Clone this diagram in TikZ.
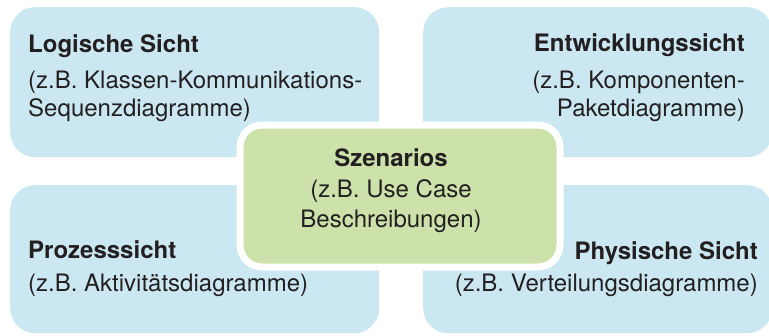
\documentclass[tikz,border=0pt]{standalone}
\usepackage{fontspec}
\setmainfont{TeX Gyre Heros}
\definecolor{viewblue}{HTML}{CBE8F2}
\definecolor{scengreen}{HTML}{CDE2AB}
\definecolor{ink}{HTML}{231F20}
\begin{document}
\begin{tikzpicture}[x=1pt,y=-1pt,
  viewbox/.style={fill=viewblue, rounded corners=25pt, inner sep=0pt,
    minimum width=349pt, minimum height=150pt, anchor=north west},
  scenbox/.style={fill=scengreen, draw=white, line width=7pt,
    rounded corners=22pt, inner sep=0pt, anchor=north west,
    minimum width=320pt, minimum height=142pt},
  headline/.style={font=\fontsize{24}{28}\selectfont\bfseries, text=ink, inner sep=0pt},
  bodyline/.style={font=\fontsize{24}{28}\selectfont, text=ink, inner sep=0pt}
]
\clip (0,0) rectangle (769,335);
\fill[white] (0,0) rectangle (769,335);

% the four views
\node[viewbox, minimum width=369pt] (logical) at (10,7) {};
\node[viewbox] (development) at (423,7) {};
\node[viewbox, minimum width=369pt, minimum height=148pt] (process) at (10,185) {};
\node[viewbox, minimum height=148pt] (physical) at (423,185) {};

% scenarios in the middle
\node[scenbox] (scenarios) at (236.5,121.5) {};

% logical view
\node[headline, anchor=base west] (logical-t) at (28,52) {Logische Sicht};
\node[bodyline, anchor=base west] (logical-a) at (28,88) {(z.B. Klassen-Kommunikations-};
\node[bodyline, anchor=base west] (logical-b) at (28,116) {Sequenzdiagramme)};

% development view
\node[headline, anchor=base east] (development-t) at (745,51) {Entwicklungssicht};
\node[bodyline, anchor=base east] (development-a) at (745,88) {(z.B. Komponenten-};
\node[bodyline, anchor=base east] (development-b) at (745,116) {Paketdiagramme)};

% scenarios
\node[headline, anchor=base] (scenarios-t) at (391,166) {Szenarios};
\node[bodyline, anchor=base] (scenarios-a) at (391,197) {(z.B. Use Case};
\node[bodyline, anchor=base] (scenarios-b) at (391,227) {Beschreibungen)};

% process view
\node[headline, anchor=base west] (process-t) at (28,258) {Prozesssicht};
\node[bodyline, anchor=base west] (process-a) at (28,291) {(z.B. Aktivitätsdiagramme)};

% physical view
\node[headline, anchor=base east] (physical-t) at (758,259) {Physische Sicht};
\node[bodyline, anchor=base east] (physical-a) at (758,291) {(z.B. Verteilungsdiagramme)};
\end{tikzpicture}
\end{document}
